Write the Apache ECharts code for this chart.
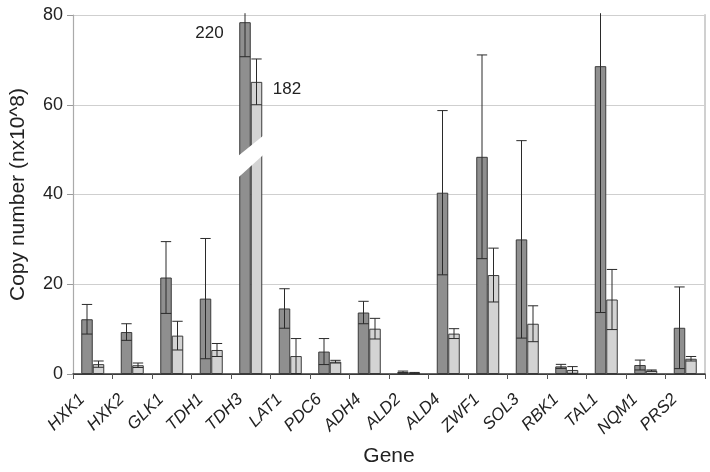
<!DOCTYPE html>
<html>
<head>
<meta charset="utf-8">
<script src="https://cdn.jsdelivr.net/npm/echarts@6/dist/echarts.min.js"></script>
<style>
html,body{margin:0;padding:0;background:#fff;}
#chart{width:710px;height:472px;}
</style>
</head>
<body>
<div id="chart"></div>
<script>
const genes = ['HXK1','HXK2','GLK1','TDH1','TDH3','LAT1','PDC6','ADH4','ALD2','ALD4','ZWF1','SOL3','RBK1','TAL1','NQM1','PRS2'];
const darkMean = [12.2, 9.35, 21.5, 16.8, 78.4, 14.6, 5.0, 13.7, 0.45, 40.4, 48.4, 30.0, 1.7, 68.6, 2.0, 10.3];
const darkErr  = [3.3, 1.85, 8.0, 13.4, 7.7, 4.4, 2.9, 2.5, 0.2, 18.3, 22.7, 22.0, 0.45, 54.9, 1.1, 9.1];
const lightMean = [2.2, 1.95, 8.55, 5.35, 65.1, 4.0, 2.75, 10.1, 0.25, 9.0, 22.05, 11.2, 0.9, 16.6, 0.75, 3.4];
const lightErr  = [0.7, 0.5, 3.2, 1.45, 5.1, 3.9, 0.3, 2.3, 0.1, 1.1, 6.0, 4.0, 0.75, 6.7, 0.15, 0.5];
const yTicks = [0, 20, 40, 60, 80];
const brokenGene = 'TDH3';
const darkLabel = '220';
const lightLabel = '182';
// break band values: [left bottom, left top, right bottom, right top]
const breakBand = [43.7, 48.5, 48.9, 53.2];

const FONT = '"Liberation Sans", Arial, sans-serif';
const BW = 11.5;
const yMax = yTicks[yTicks.length - 1];
const brokenIdx = genes.indexOf(brokenGene);

function errSeries(means, errs, side) {
  return {
    type: 'custom',
    z: 5,
    clip: false,
    data: means.map((m, i) => [i, m, errs[i]]),
    renderItem: function (params, api) {
      const i = api.value(0), m = api.value(1), e = api.value(2);
      const c = api.coord([i, m]);
      const x = c[0] + side * BW / 2;
      let hi = m + e, lo = Math.max(m - e, 0);
      let capHi = true;
      if (hi > yMax + 0.4) { hi = yMax + 0.4; capHi = false; }
      const yHi = api.coord([i, hi])[1];
      const yLo = api.coord([i, lo])[1];
      const cw = BW * 0.45;
      const st = { stroke: '#2a2a2a', lineWidth: 1 };
      const ch = [{ type: 'line', shape: { x1: x, y1: yHi, x2: x, y2: yLo }, style: st }];
      if (capHi) ch.push({ type: 'line', shape: { x1: x - cw, y1: yHi, x2: x + cw, y2: yHi }, style: st });
      ch.push({ type: 'line', shape: { x1: x - cw, y1: yLo, x2: x + cw, y2: yLo }, style: st });
      return { type: 'group', children: ch };
    }
  };
}

const chart = echarts.init(document.getElementById('chart'));
chart.setOption({
  animation: false,
  backgroundColor: '#fff',
  textStyle: { fontFamily: FONT },
  grid: { left: 73, right: 5, top: 15, bottom: 97 },
  xAxis: [{
    type: 'category',
    data: genes,
    name: 'Gene',
    nameLocation: 'middle',
    nameGap: 72,
    nameTextStyle: { fontSize: 21, color: '#222', fontFamily: FONT },
    axisLine: { lineStyle: { color: '#555', width: 1.2 } },
    axisTick: { show: true, length: 5, lineStyle: { color: '#555' } },
    axisLabel: { rotate: 45, fontSize: 17, fontStyle: 'italic', color: '#222', margin: 12, interval: 0, padding: [0, 15, 0, 0], fontFamily: FONT }
  }, {
    type: 'category',
    data: genes,
    position: 'top',
    axisLine: { show: true, lineStyle: { color: '#333', width: 1.5 } },
    axisTick: { show: false },
    axisLabel: { show: false }
  }],
  yAxis: [{
    type: 'value',
    min: 0, max: yMax, interval: 20,
    name: 'Copy number (nx10^8)',
    nameLocation: 'middle',
    nameGap: 44,
    nameTextStyle: { fontSize: 21, color: '#222', fontFamily: FONT },
    axisLine: { show: true, lineStyle: { color: '#aaa', width: 1.2 } },
    axisTick: { show: true, length: 6, lineStyle: { color: '#999' } },
    axisLabel: { fontSize: 18, color: '#222', margin: 10, fontFamily: FONT },
    splitLine: { show: true, lineStyle: { color: '#cfcfcf', width: 1.2 } }
  }, {
    type: 'value',
    min: 0, max: yMax, interval: 20,
    position: 'right',
    axisLine: { show: true, lineStyle: { color: '#d0d0d0', width: 2 } },
    axisTick: { show: false },
    axisLabel: { show: false },
    splitLine: { show: false }
  }],
  series: [
    {
      type: 'bar',
      barWidth: BW,
      barGap: '0%',
      z: 2,
      itemStyle: { color: '#8f8f8f', borderColor: '#3a3a3a', borderWidth: 1 },
      data: darkMean.map((v, i) => i === brokenIdx ? {
        value: v,
        label: { show: true, formatter: darkLabel, position: [-44, 3], fontSize: 17, color: '#222', fontFamily: FONT }
      } : v)
    },
    {
      type: 'bar',
      barWidth: BW,
      barGap: '0%',
      z: 2,
      itemStyle: { color: '#d3d3d3', borderColor: '#3a3a3a', borderWidth: 1 },
      data: lightMean.map((v, i) => i === brokenIdx ? {
        value: v,
        label: { show: true, formatter: lightLabel, position: [22, -1], fontSize: 17, color: '#222', fontFamily: FONT }
      } : v)
    },
    errSeries(darkMean, darkErr, -1),
    errSeries(lightMean, lightErr, 1),
    {
      type: 'custom',
      z: 6,
      clip: false,
      data: [[brokenIdx].concat(breakBand)],
      renderItem: function (params, api) {
        const i = api.value(0);
        const cx = api.coord([i, 0])[0];
        const xl = cx - BW - 1.5, xr = cx + BW + 1.5;
        const p = [
          [xl, api.coord([i, api.value(1)])[1]],
          [xl, api.coord([i, api.value(2)])[1]],
          [xr, api.coord([i, api.value(4)])[1]],
          [xr, api.coord([i, api.value(3)])[1]]
        ];
        return { type: 'polygon', shape: { points: p }, style: { fill: '#fff', stroke: null } };
      }
    }
  ]
});
</script>
</body>
</html>
